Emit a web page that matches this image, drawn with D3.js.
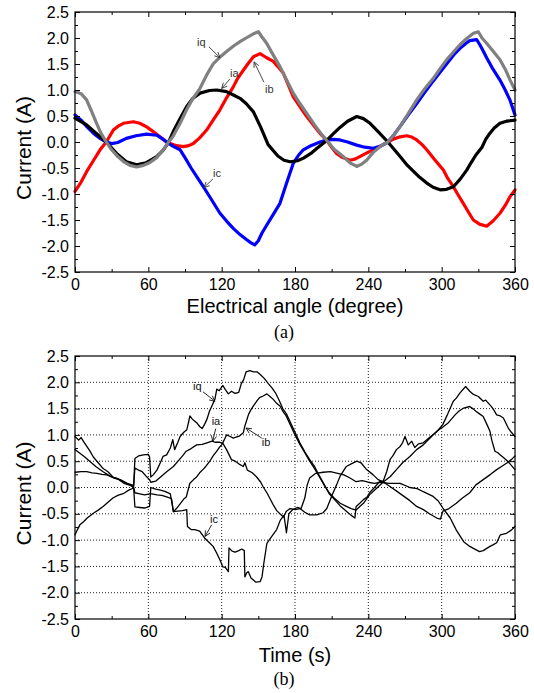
<!DOCTYPE html>
<html>
<head>
<meta charset="utf-8">
<script src="https://cdn.jsdelivr.net/npm/d3@7"></script>
<style>
  body { margin: 0; background: #fff; }
  svg { display: block; font-family: "Liberation Sans", Arial, sans-serif; }
</style>
</head>
<body>
<div class="chart"></div>
<script>
// ticks
const xTicks = [0, 60, 120, 180, 240, 300, 360];
const xMinor = [30, 90, 150, 210, 270, 330];
const yTicks = [-2.5, -2, -1.5, -1, -0.5, 0, 0.5, 1, 1.5, 2, 2.5];
const yMinor = [-2.25, -1.75, -1.25, -0.75, -0.25, 0.25, 0.75, 1.25, 1.75, 2.25];

// (a) currents vs electrical angle
const aIa = [[0,0.46],[9.5,0.33],[20.5,0.1],[25.6,0],[34,-0.22],[42,-0.38],[50.5,-0.44],[58,-0.4],[66.8,-0.28],[72,-0.16],[76,-0.03],[80.4,0.2],[86,0.45],[91.3,0.68],[96,0.83],[102.3,0.94],[110,0.99],[116,1.0],[124,0.97],[130,0.9],[135,0.84],[140,0.74],[146,0.58],[152,0.28],[158,-0.05],[166,-0.27],[171,-0.35],[176,-0.38],[182,-0.36],[187,-0.31],[193,-0.22],[198,-0.12],[206,0.03],[211,0.15],[216.8,0.28],[223,0.4],[230.5,0.49],[236,0.45],[241.4,0.36],[248,0.2],[256,0.0],[261,-0.14],[266,-0.28],[272,-0.45],[276.8,-0.56],[282,-0.68],[287.8,-0.79],[293,-0.87],[298.7,-0.92],[304,-0.91],[309.6,-0.86],[315,-0.72],[320.5,-0.54],[324,-0.4],[328,-0.25],[333,-0.1],[336,0.05],[339.5,0.17],[343,0.27],[347.7,0.36],[353,0.4],[360,0.42]];
const aIb = [[0,-0.95],[5,-0.77],[9.5,-0.57],[15,-0.36],[20.5,-0.15],[25.6,0],[31.4,0.23],[35,0.3],[39.6,0.36],[47.7,0.39],[53,0.36],[58.6,0.29],[64,0.2],[69.5,0.1],[75,0.0],[78,-0.03],[83,-0.07],[88.6,-0.09],[93,-0.07],[96.8,-0.03],[102,0.08],[107.7,0.23],[113,0.42],[118.6,0.62],[124,0.85],[129.5,1.06],[133,1.22],[137.7,1.38],[142,1.52],[146,1.64],[151.4,1.7],[156.8,1.62],[162.3,1.55],[166,1.45],[170.5,1.32],[174.5,1.1],[178.6,0.87],[184,0.68],[189.6,0.49],[196,0.3],[201,0.15],[206,0.03],[210,-0.1],[214,-0.22],[219,-0.3],[225,-0.35],[229,-0.33],[233,-0.28],[238,-0.22],[244,-0.15],[250,-0.08],[256,0],[261,0.06],[266,0.1],[271.5,0.12],[276,0.09],[279.6,0.04],[284,-0.05],[287.8,-0.15],[294,-0.33],[301.4,-0.54],[305,-0.7],[309.6,-0.86],[313,-1.0],[317.7,-1.18],[322,-1.35],[325.9,-1.5],[331,-1.58],[336.8,-1.62],[342,-1.52],[347.7,-1.37],[352,-1.22],[356,-1.05],[360,-0.92]];
const aIc = [[0,0.52],[5,0.42],[9.5,0.3],[15,0.17],[20.5,0.07],[25.6,0.0],[30,-0.03],[35,-0.01],[42,0.07],[50,0.12],[58.6,0.15],[66.8,0.13],[71,0.07],[75,0.0],[80,-0.08],[86,-0.15],[90,-0.3],[95,-0.5],[100,-0.68],[105,-0.86],[112,-1.12],[118.6,-1.37],[124,-1.52],[129.5,-1.66],[135,-1.78],[140.5,-1.88],[144,-1.94],[147,-1.98],[150,-1.9],[153,-1.75],[156.8,-1.6],[162,-1.4],[167.7,-1.18],[173,-0.8],[178.6,-0.41],[183,-0.25],[186.8,-0.15],[193,-0.07],[200.5,0.0],[206,0.04],[211,0.05],[216.8,0.04],[223,0.0],[230.5,-0.06],[237,-0.1],[244,-0.12],[250,-0.08],[256,0.0],[261,0.14],[266,0.3],[272,0.5],[279.6,0.74],[286,0.95],[293,1.17],[299,1.35],[304,1.5],[310,1.68],[315,1.8],[320,1.9],[323,1.95],[328.6,1.97],[331,1.88],[334,1.75],[336.8,1.62],[342,1.4],[347.7,1.19],[352,1.0],[356,0.8],[360,0.52]];
const aIq = [[0,0.97],[5,0.93],[9.5,0.81],[13,0.62],[17.7,0.36],[21,0.18],[25.6,0],[30,-0.15],[35,-0.28],[40,-0.38],[45,-0.45],[50.5,-0.48],[56,-0.45],[61,-0.4],[66.8,-0.3],[72,-0.16],[76,-0.02],[80,0.1],[86,0.36],[91.3,0.62],[96,0.82],[102,1.02],[108,1.3],[113,1.5],[118,1.62],[124,1.74],[130,1.85],[135,1.93],[140,2.0],[146,2.08],[150,2.12],[153,2.02],[156.8,1.9],[162,1.68],[167.7,1.45],[173,1.2],[178.6,0.94],[184,0.74],[189.6,0.55],[196,0.33],[201,0.17],[206,0.03],[212,-0.14],[219.5,-0.28],[225,-0.4],[230.5,-0.47],[235,-0.42],[238.6,-0.35],[244,-0.2],[250,-0.08],[256,0.0],[261,0.14],[266,0.3],[272,0.52],[279.6,0.81],[286,1.02],[293,1.22],[299,1.42],[304,1.58],[310,1.74],[315,1.87],[320,1.98],[326,2.09],[330,2.12],[333,2.0],[336.8,1.9],[342,1.75],[347.7,1.58],[352,1.4],[356,1.19],[360,1.0]];

// (b) currents vs time
const bIq = [[0,0.97],[3,0.9],[5,0.95],[8,0.84],[12,0.7],[15,0.58],[19,0.47],[23,0.36],[27,0.3],[31,0.2],[35,0.16],[40,0.08],[44,0.05],[48,0.02],[49,0.55],[52,0.6],[56,0.62],[60,0.63],[61,0.58],[62,0.2],[64,0.24],[67,0.33],[70,0.48],[72,0.59],[75,0.62],[78,0.75],[80,0.91],[81.5,0.72],[84,0.85],[86,0.97],[89,1.05],[91.5,1.1],[93,1.25],[94,1.36],[96,1.3],[98,1.26],[100,1.22],[102,1.16],[104,1.12],[106,1.2],[108,1.3],[110,1.45],[112,1.55],[114.5,1.68],[116,1.87],[118,1.84],[121,1.94],[123,1.86],[125.5,1.78],[128,1.83],[131,1.79],[134,1.81],[136,1.97],[138,2.05],[140,2.2],[143,2.22],[146,2.2],[149,2.2],[152,2.14],[155,2.07],[158,1.98],[161,1.9],[164,1.8],[167,1.66],[170,1.5],[173,1.4],[176,1.25],[180,1.05],[184,0.85],[188,0.68],[192,0.53],[196,0.4],[200,0.22],[204,0.05],[208,-0.12],[212,-0.22],[217,-0.35],[222,-0.45],[226,-0.53],[229,-0.58],[230,-0.36],[233,-0.3],[236,-0.23],[239,-0.18],[241,-0.1],[245,0.0],[249.5,0.12],[252,0.11],[255,0.3],[257.7,0.53],[260,0.6],[263,0.72],[266,0.78],[268,0.85],[270,0.97],[272.7,0.81],[275.5,0.88],[278,0.76],[281,0.83],[285,0.85],[290,0.95],[296,1.06],[301,1.2],[305,1.4],[309.5,1.64],[312,1.7],[315,1.8],[319.6,1.92],[323,1.83],[326,1.77],[330,1.73],[334,1.64],[336,1.66],[339.5,1.57],[342,1.5],[345,1.38],[348,1.36],[350.5,1.32],[354.5,1.13],[357,1.05],[360,0.97]];
const bIa = [[0,0.72],[4,0.65],[8,0.58],[12,0.5],[17,0.4],[23,0.3],[27,0.24],[31.6,0.18],[37,0.15],[42.6,0.08],[48,0.04],[49,0.37],[52,0.33],[55,0.3],[58,0.22],[61,0.15],[62,0.1],[66,0.12],[70,0.2],[75,0.3],[80.5,0.4],[85,0.52],[88,0.6],[91,0.69],[95,0.74],[99.5,0.81],[104,0.82],[108,0.85],[112,0.88],[115,0.86],[118.6,0.86],[121,0.84],[124,0.72],[128,0.53],[131,0.5],[134,0.45],[137.7,0.4],[139,0.47],[141,0.33],[145,0.28],[148.6,0.2],[152,0.1],[154,0.01],[157,-0.1],[159.5,-0.21],[162,-0.32],[165,-0.44],[170.5,-0.56],[173,-0.45],[176,-0.4],[180,-0.42],[184,-0.4],[188,-0.47],[192,-0.52],[197.7,-0.52],[203,-0.48],[206,-0.4],[211,-0.11],[214,0.05],[216.8,0.21],[222,0.4],[226,0.45],[230.5,0.5],[234,0.47],[238.6,0.34],[244,0.24],[248,0.15],[252,0.11],[257.7,0.02],[262,-0.05],[268,-0.15],[274,-0.25],[279.5,-0.36],[285,-0.42],[290,-0.5],[296,-0.58],[299,-0.6],[301,-0.45],[306,-0.4],[312,-0.3],[317,-0.2],[323,-0.1],[328,0.05],[334,0.15],[340,0.25],[345,0.34],[349,0.4],[353,0.46],[357,0.53],[360,0.6]];
const bIc = [[0,0.29],[5,0.3],[9.6,0.3],[14,0.28],[17.9,0.27],[22,0.25],[26,0.24],[30,0.2],[34,0.18],[38,0.13],[42.6,0.08],[48,0.0],[49,-0.1],[53,-0.12],[57,-0.14],[61,-0.12],[63,-0.12],[67,-0.14],[71,-0.15],[75,-0.18],[79,-0.21],[80.5,-0.46],[84,-0.45],[88,-0.44],[91.4,-0.42],[92,-0.74],[95,-0.8],[98,-0.8],[102,-0.83],[106,-0.96],[110,-1.05],[113,-1.12],[116,-1.25],[118.6,-1.38],[121,-1.51],[123,-1.52],[125.5,-1.6],[126,-1.15],[128.5,-1.21],[131,-1.23],[134,-1.2],[136.4,-1.17],[138.5,-1.2],[139,-1.7],[140.5,-1.62],[141.8,-1.6],[144,-1.72],[146,-1.76],[148,-1.8],[151.4,-1.79],[153,-1.7],[154.5,-1.44],[157,-1.06],[161,-0.93],[165,-0.8],[168,-0.62],[171,-0.53],[173,-0.86],[175,-0.5],[178,-0.42],[182,-0.38],[185,-0.4],[188,-0.2],[190,0.05],[192,0.18],[197,0.27],[203,0.29],[209,0.3],[215,0.27],[220,0.24],[225,0.18],[230,0.11],[235,0.13],[240,0.1],[245,0.08],[250,0.1],[257,0.08],[266,0.08],[274,0.0],[280,-0.02],[285,-0.08],[293,-0.17],[297,-0.25],[301,-0.39],[307,-0.58],[312,-0.81],[318,-1.03],[323,-1.12],[328.6,-1.19],[331,-1.22],[334,-1.2],[339.5,-1.12],[342,-1.09],[345,-1.05],[348,-0.9],[353,-0.87],[357,-0.81],[360,-0.74]];
const bIb = [[0,-0.9],[2,-0.8],[4,-0.71],[7,-0.65],[10,-0.58],[15,-0.49],[19,-0.43],[23,-0.36],[27,-0.28],[31,-0.2],[35,-0.15],[40,-0.11],[44,-0.05],[48,-0.01],[49,-0.37],[53,-0.38],[57,-0.39],[61,-0.36],[62,0.0],[66,-0.03],[70,-0.05],[74,-0.08],[78,-0.12],[80.5,-0.46],[83,-0.4],[86,-0.31],[89,-0.22],[91,-0.18],[94,0.08],[97,0.15],[99.5,0.2],[102,0.28],[105,0.35],[107,0.4],[110,0.49],[113,0.6],[116,0.69],[118,0.76],[120,0.81],[122,0.9],[124,1.0],[127,0.97],[129.5,0.94],[132,0.96],[134,0.97],[137.7,1.04],[139,1.17],[142,1.39],[144,1.48],[146,1.55],[149,1.65],[151,1.71],[154,1.74],[157,1.78],[160,1.72],[162,1.68],[165,1.6],[167.7,1.55],[170,1.45],[173,1.35],[176,1.2],[180,1.0],[184,0.82],[188,0.66],[192,0.5],[196,0.36],[200,0.2],[204,0.04],[208,-0.1],[212,-0.2],[217,-0.3],[222,-0.36],[226,-0.4],[230,-0.43],[233,-0.36],[236,-0.3],[241,-0.14],[247,-0.01],[252,0.1],[258,0.21],[263,0.34],[268,0.47],[274,0.59],[279.5,0.72],[285,0.81],[290.5,0.94],[296,1.07],[301,1.15],[305,1.22],[308,1.3],[311,1.38],[314,1.45],[318,1.51],[323,1.54],[326,1.49],[328,1.45],[331,1.4],[334,1.35],[337,1.2],[339.5,1.07],[341,0.9],[343.6,0.69],[346,0.66],[348,0.62],[351,0.56],[354,0.5],[357,0.42],[360,0.34]];

// curve labels: text anchor and arrow (from -> tip), in data units
const aLabels = [
  { text: "iq", at: [99.8, 1.85], from: [109.6, 1.83], tip: [118.6, 1.62] },
  { text: "ia", at: [126.8, 1.25], from: [126.8, 1.21], tip: [120, 1.03] },
  { text: "ib", at: [155.5, 0.94], from: [154.6, 1.15], tip: [146.5, 1.54] },
  { text: "ic", at: [112.9, -0.67], from: [112.9, -0.71], tip: [105.5, -0.875] }
];
const bLabels = [
  { text: "iq", at: [96.5, 1.86], from: [104.7, 1.82], tip: [114.5, 1.64] },
  { text: "ia", at: [111.8, 1.18], from: [115.1, 1.12], tip: [112.7, 0.88] },
  { text: "ib", at: [152.8, 0.79], from: [152.8, 0.94], tip: [139.9, 1.13] },
  { text: "ic", at: [110.5, -0.67], from: [111.8, -0.71], tip: [106.4, -0.93] }
];

const width = 534, height = 693;
const svg = d3.select(".chart").append("svg")
    .attr("width", width)
    .attr("height", height);

function drawPanel(p) {
    const x = d3.scaleLinear().domain([0, 360]).range([p.left, p.right]);
    const y = d3.scaleLinear().domain([-2.5, 2.5]).range([p.bottom, p.top]);
    const g = svg.append("g");

    // dotted grid (only panel b)
    if (p.grid) {
        const grid = g.append("g")
            .attr("stroke", "#222")
            .attr("stroke-width", 1)
            .attr("stroke-dasharray", "1,2");
        grid.append("g").selectAll("line")
            .data(xTicks.slice(1, -1))
            .join("line")
            .attr("x1", d => x(d)).attr("x2", d => x(d))
            .attr("y1", p.top).attr("y2", p.bottom);
        grid.append("g").selectAll("line")
            .data(yTicks.slice(1, -1))
            .join("line")
            .attr("x1", p.left).attr("x2", p.right)
            .attr("y1", d => y(d)).attr("y2", d => y(d));
    }

    const line = d3.line().x(d => x(d[0])).y(d => y(d[1]));
    p.series.forEach(s => {
        g.append("path")
            .datum(s.data)
            .attr("d", line)
            .attr("fill", "none")
            .attr("stroke", s.color)
            .attr("stroke-width", p.lw)
            .attr("stroke-linejoin", "round")
            .attr("stroke-linecap", "round");
    });

    // axes, ticks pointing inward on all four sides
    const style = sel => sel.attr("font-size", 16)
        .attr("font-family", "'Liberation Sans', Arial, sans-serif")
        .call(s => s.select(".domain").remove())
        .call(s => s.selectAll("text").attr("fill", "#000"));

    g.append("g")
        .attr("transform", `translate(0,${p.bottom})`)
        .call(d3.axisBottom(x).tickValues(xTicks).tickSize(-5).tickSizeOuter(0).tickPadding(7).tickFormat(d3.format("d")))
        .call(style);
    g.append("g")
        .attr("transform", `translate(0,${p.bottom})`)
        .call(d3.axisBottom(x).tickValues(xMinor).tickSize(-3).tickFormat(""))
        .call(style);
    g.append("g")
        .attr("transform", `translate(0,${p.top})`)
        .call(d3.axisTop(x).tickValues(xTicks).tickSize(-5).tickFormat(""))
        .call(style);
    g.append("g")
        .attr("transform", `translate(0,${p.top})`)
        .call(d3.axisTop(x).tickValues(xMinor).tickSize(-3).tickFormat(""))
        .call(style);
    g.append("g")
        .attr("transform", `translate(${p.left},0)`)
        .call(d3.axisLeft(y).tickValues(yTicks).tickSize(-5).tickPadding(6).tickFormat(d => d.toFixed(1)))
        .call(style);
    g.append("g")
        .attr("transform", `translate(${p.left},0)`)
        .call(d3.axisLeft(y).tickValues(yMinor).tickSize(-3).tickFormat(""))
        .call(style);
    g.append("g")
        .attr("transform", `translate(${p.right},0)`)
        .call(d3.axisRight(y).tickValues(yTicks).tickSize(-5).tickFormat(""))
        .call(style);
    g.append("g")
        .attr("transform", `translate(${p.right},0)`)
        .call(d3.axisRight(y).tickValues(yMinor).tickSize(-3).tickFormat(""))
        .call(style);

    g.append("rect")
        .attr("x", p.left).attr("y", p.top)
        .attr("width", p.right - p.left).attr("height", p.bottom - p.top)
        .attr("fill", "none")
        .attr("stroke", "#000")
        .attr("stroke-width", 1.2);

    // curve labels with arrows
    p.labels.forEach(l => {
        g.append("text")
            .attr("x", x(l.at[0])).attr("y", y(l.at[1]))
            .attr("font-size", 11)
            .attr("fill", p.labelColor)
            .text(l.text);
        const x0 = x(l.from[0]), y0 = y(l.from[1]);
        const x1 = x(l.tip[0]), y1 = y(l.tip[1]);
        const a = Math.atan2(y1 - y0, x1 - x0);
        const len = 6, spread = 0.45;
        const path = d3.path();
        path.moveTo(x0, y0);
        path.lineTo(x1, y1);
        path.moveTo(x1 - len * Math.cos(a - spread), y1 - len * Math.sin(a - spread));
        path.lineTo(x1, y1);
        path.lineTo(x1 - len * Math.cos(a + spread), y1 - len * Math.sin(a + spread));
        g.append("path")
            .attr("d", path.toString())
            .attr("fill", "none")
            .attr("stroke", p.labelColor)
            .attr("stroke-width", 0.9);
    });

    // axis titles and panel tag
    g.append("text")
        .attr("x", (p.left + p.right) / 2)
        .attr("y", p.bottom + p.titleGap)
        .attr("text-anchor", "middle")
        .attr("font-size", 20)
        .text(p.xTitle);
    g.append("text")
        .attr("transform", `translate(31,${(p.top + p.bottom) / 2 + 6}) rotate(-90)`)
        .attr("text-anchor", "middle")
        .attr("font-size", 21)
        .text("Current (A)");
    g.append("text")
        .attr("x", 284)
        .attr("y", p.bottom + 66)
        .attr("text-anchor", "middle")
        .attr("font-family", "'Liberation Serif', 'Times New Roman', serif")
        .attr("font-size", 18)
        .text(p.tag);
}

drawPanel({
    left: 75, right: 515, top: 12, bottom: 272,
    grid: false, lw: 3.2, labelColor: "#333", titleGap: 41,
    series: [
        { data: aIb, color: "#ff0000" },
        { data: aIc, color: "#0000ff" },
        { data: aIa, color: "#000000" },
        { data: aIq, color: "#808080" }
    ],
    labels: aLabels,
    xTitle: "Electrical angle (degree)",
    tag: "(a)"
});

drawPanel({
    left: 75, right: 515, top: 356, bottom: 619,
    grid: true, lw: 1.3, labelColor: "#111", titleGap: 43,
    series: [
        { data: bIq, color: "#000" },
        { data: bIa, color: "#000" },
        { data: bIc, color: "#000" },
        { data: bIb, color: "#000" }
    ],
    labels: bLabels,
    xTitle: "Time (s)",
    tag: "(b)"
});
</script>
</body>
</html>
